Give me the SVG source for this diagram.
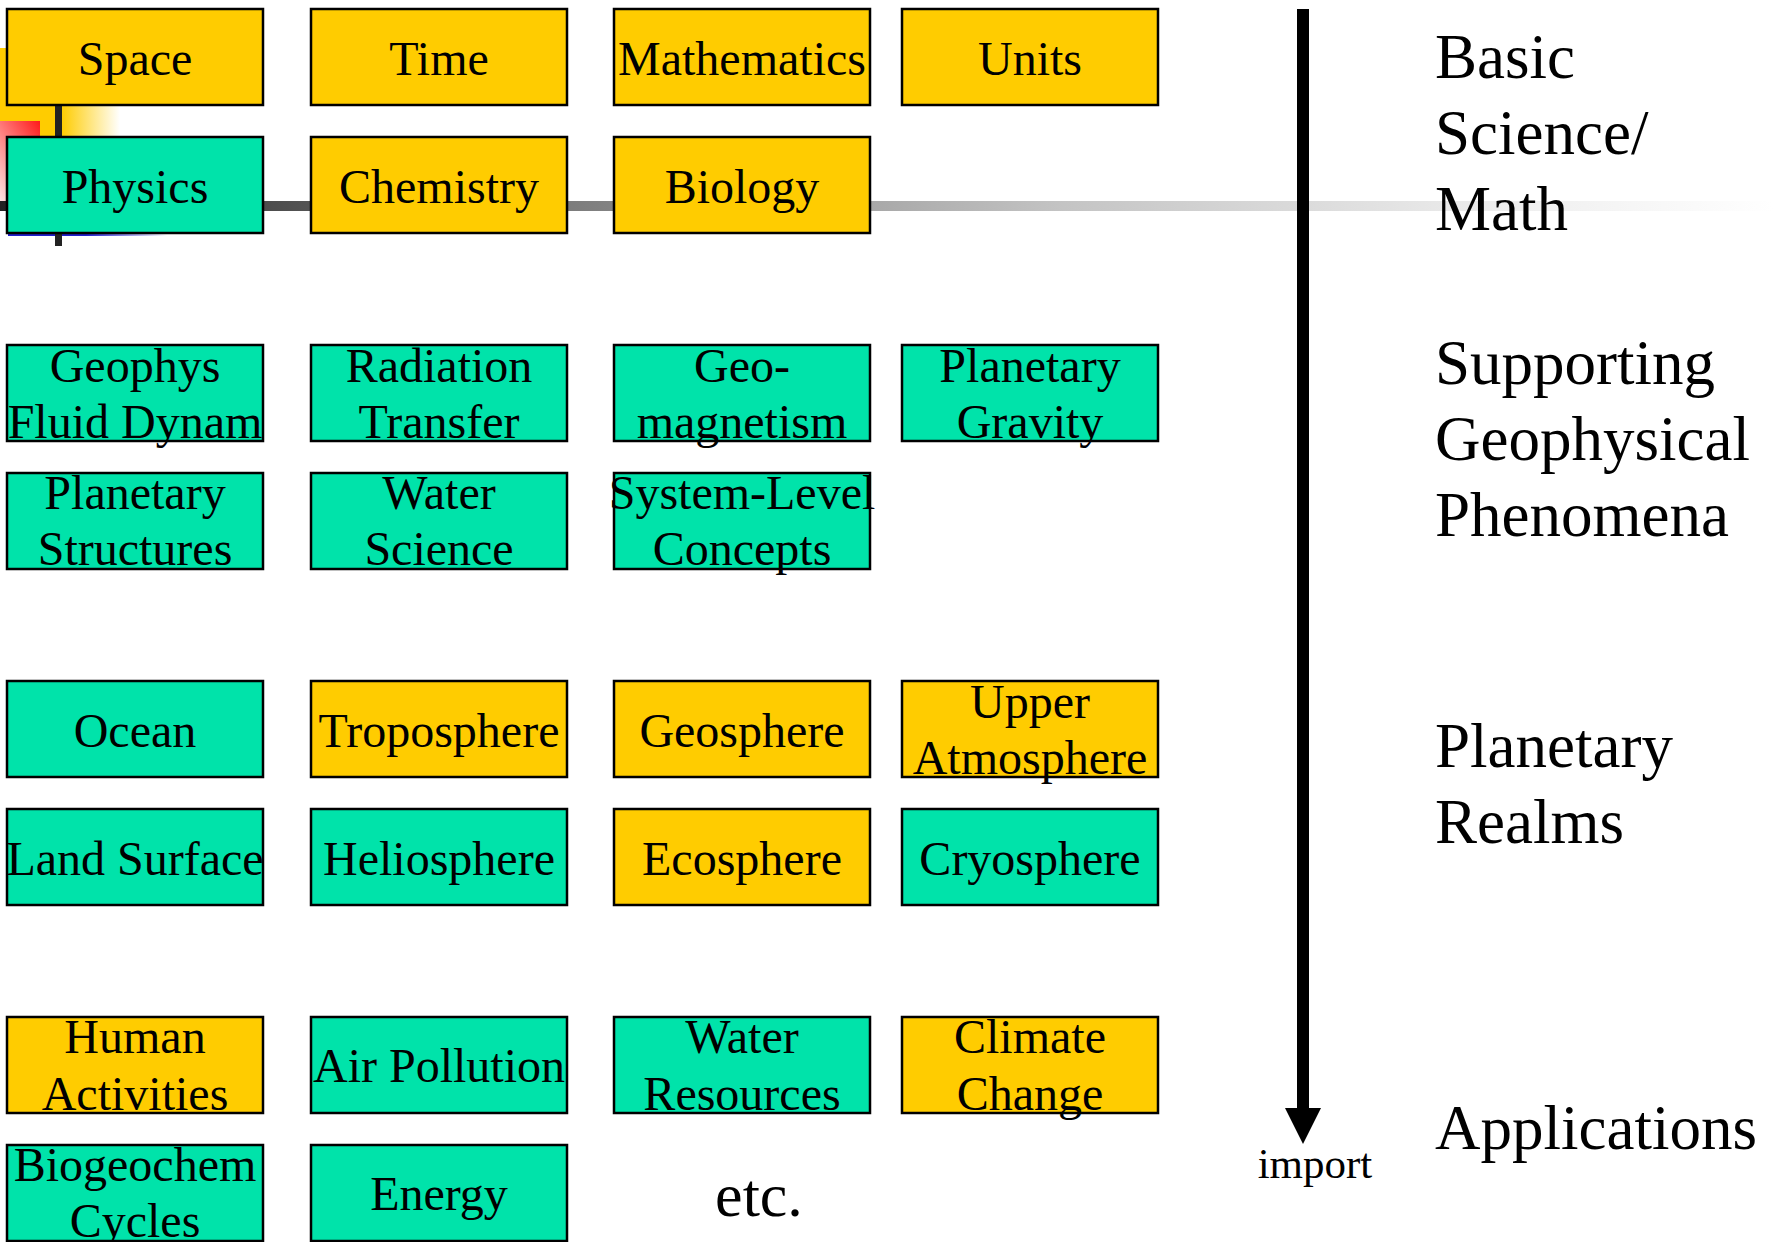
<svg xmlns="http://www.w3.org/2000/svg" width="1773" height="1242" viewBox="0 0 1773 1242">
<style>
.y{fill:#FFCC00;stroke:#000;stroke-width:2.5}
.g{fill:#00E3AA;stroke:#000;stroke-width:2.5}
.t{font-family:"Liberation Serif","Times New Roman",serif;font-size:48px;fill:#000;text-anchor:middle}
.lbl{font-family:"Liberation Serif","Times New Roman",serif;font-size:63px;fill:#000}
</style>
<defs>
<linearGradient id="hl" x1="0" y1="0" x2="1" y2="0">
<stop offset="0" stop-color="#222"/>
<stop offset="0.3" stop-color="#777"/>
<stop offset="0.6" stop-color="#c4c4c4"/>
<stop offset="0.85" stop-color="#eee"/>
<stop offset="1" stop-color="#fff"/>
</linearGradient>
<linearGradient id="yg" x1="0" y1="0" x2="1" y2="0">
<stop offset="0" stop-color="#FFCC00"/>
<stop offset="0.55" stop-color="#FFCC00"/>
<stop offset="1" stop-color="#fff"/>
</linearGradient>
<linearGradient id="rg" x1="1" y1="0" x2="0" y2="1">
<stop offset="0" stop-color="#FF1A1A"/>
<stop offset="1" stop-color="#fff"/>
</linearGradient>
<linearGradient id="bg" x1="0" y1="0" x2="1" y2="0">
<stop offset="0" stop-color="#2020CC"/>
<stop offset="0.49" stop-color="#2020CC"/>
<stop offset="1" stop-color="#fff"/>
</linearGradient>
</defs>
<rect width="1773" height="1242" fill="#fff"/>
<g id="decoration">
<rect x="-10" y="48" width="130" height="95" fill="url(#yg)"/>
<rect x="-10" y="121" width="50" height="84" fill="url(#rg)"/>
<rect x="8" y="150" width="159" height="86" fill="url(#bg)"/>
<rect x="0" y="201" width="1773" height="10" fill="url(#hl)"/>
<rect x="55" y="100" width="7" height="146" fill="#222"/>
</g>
<g id="connectors">
<line x1="1303" y1="9" x2="1303" y2="1110" stroke="#000" stroke-width="12"/>
<path d="M1285,1108 L1321,1108 L1303,1144 Z" fill="#000"/>
<text x="1315" y="1178" font-family="Liberation Serif, serif" font-size="43" text-anchor="middle">import</text>
</g>
<g id="n-space"><rect class="y" x="7" y="9" width="256" height="96"/><text class="t" x="135" y="75">Space</text></g>
<g id="n-time"><rect class="y" x="311" y="9" width="256" height="96"/><text class="t" x="439" y="75">Time</text></g>
<g id="n-math"><rect class="y" x="614" y="9" width="256" height="96"/><text class="t" x="742" y="75">Mathematics</text></g>
<g id="n-units"><rect class="y" x="902" y="9" width="256" height="96"/><text class="t" x="1030" y="75">Units</text></g>
<g id="n-physics"><rect class="g" x="7" y="137" width="256" height="96"/><text class="t" x="135" y="203">Physics</text></g>
<g id="n-chem"><rect class="y" x="311" y="137" width="256" height="96"/><text class="t" x="439" y="203">Chemistry</text></g>
<g id="n-bio"><rect class="y" x="614" y="137" width="256" height="96"/><text class="t" x="742" y="203">Biology</text></g>
<g id="n-gfd"><rect class="g" x="7" y="345" width="256" height="96"/><text class="t" x="135" y="382">Geophys</text><text class="t" x="135" y="438">Fluid Dynam</text></g>
<g id="n-rad"><rect class="g" x="311" y="345" width="256" height="96"/><text class="t" x="439" y="382">Radiation</text><text class="t" x="439" y="438">Transfer</text></g>
<g id="n-geomag"><rect class="g" x="614" y="345" width="256" height="96"/><text class="t" x="742" y="382">Geo-</text><text class="t" x="742" y="438">magnetism</text></g>
<g id="n-grav"><rect class="g" x="902" y="345" width="256" height="96"/><text class="t" x="1030" y="382">Planetary</text><text class="t" x="1030" y="438">Gravity</text></g>
<g id="n-struct"><rect class="g" x="7" y="473" width="256" height="96"/><text class="t" x="135" y="509">Planetary</text><text class="t" x="135" y="565">Structures</text></g>
<g id="n-water"><rect class="g" x="311" y="473" width="256" height="96"/><text class="t" x="439" y="509">Water</text><text class="t" x="439" y="565">Science</text></g>
<g id="n-syslevel"><rect class="g" x="614" y="473" width="256" height="96"/><text class="t" x="742" y="509">System-Level</text><text class="t" x="742" y="565">Concepts</text></g>
<g id="n-ocean"><rect class="g" x="7" y="681" width="256" height="96"/><text class="t" x="135" y="747">Ocean</text></g>
<g id="n-tropo"><rect class="y" x="311" y="681" width="256" height="96"/><text class="t" x="439" y="747">Troposphere</text></g>
<g id="n-geo"><rect class="y" x="614" y="681" width="256" height="96"/><text class="t" x="742" y="747">Geosphere</text></g>
<g id="n-upper"><rect class="y" x="902" y="681" width="256" height="96"/><text class="t" x="1030" y="718">Upper</text><text class="t" x="1030" y="774">Atmosphere</text></g>
<g id="n-land"><rect class="g" x="7" y="809" width="256" height="96"/><text class="t" x="135" y="875">Land Surface</text></g>
<g id="n-helio"><rect class="g" x="311" y="809" width="256" height="96"/><text class="t" x="439" y="875">Heliosphere</text></g>
<g id="n-eco"><rect class="y" x="614" y="809" width="256" height="96"/><text class="t" x="742" y="875">Ecosphere</text></g>
<g id="n-cryo"><rect class="g" x="902" y="809" width="256" height="96"/><text class="t" x="1030" y="875">Cryosphere</text></g>
<g id="n-human"><rect class="y" x="7" y="1017" width="256" height="96"/><text class="t" x="135" y="1053">Human</text><text class="t" x="135" y="1110">Activities</text></g>
<g id="n-air"><rect class="g" x="311" y="1017" width="256" height="96"/><text class="t" x="439" y="1082">Air Pollution</text></g>
<g id="n-wres"><rect class="g" x="614" y="1017" width="256" height="96"/><text class="t" x="742" y="1053">Water</text><text class="t" x="742" y="1110">Resources</text></g>
<g id="n-climate"><rect class="y" x="902" y="1017" width="256" height="96"/><text class="t" x="1030" y="1053">Climate</text><text class="t" x="1030" y="1110">Change</text></g>
<g id="n-biogeo"><rect class="g" x="7" y="1145" width="256" height="96"/><text class="t" x="135" y="1181">Biogeochem</text><text class="t" x="135" y="1237">Cycles</text></g>
<g id="n-energy"><rect class="g" x="311" y="1145" width="256" height="96"/><text class="t" x="439" y="1210">Energy</text></g>
<g id="n-etc"><text class="t" x="759" y="1216" style="font-size:62px">etc.</text></g>
<g id="labels">
<text class="lbl" x="1435" y="78">Basic</text>
<text class="lbl" x="1435" y="154">Science/</text>
<text class="lbl" x="1435" y="230">Math</text>
<text class="lbl" x="1435" y="384">Supporting</text>
<text class="lbl" x="1435" y="460">Geophysical</text>
<text class="lbl" x="1435" y="536">Phenomena</text>
<text class="lbl" x="1435" y="767">Planetary</text>
<text class="lbl" x="1435" y="843">Realms</text>
<text class="lbl" x="1435" y="1149">Applications</text>
</g>
</svg>
